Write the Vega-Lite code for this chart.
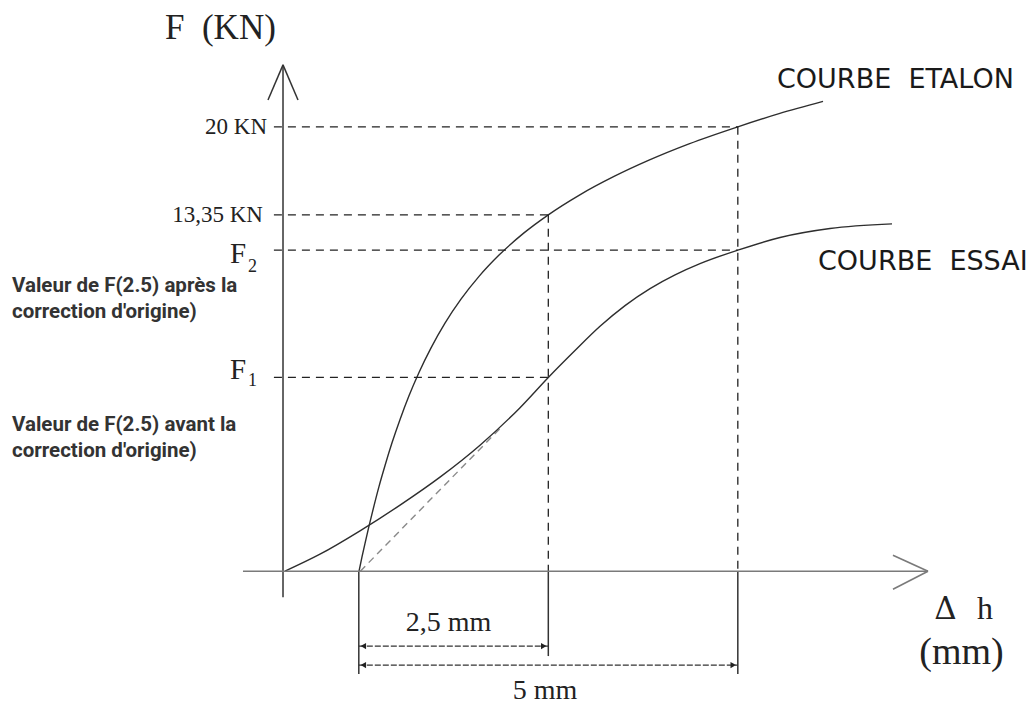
{
  "$schema": "https://vega.github.io/schema/vega-lite/v6.json",
  "width": 1032,
  "height": 706,
  "autosize": {"type": "fit", "contains": "padding"},
  "padding": 0,
  "background": "white",
  "config": {"view": {"stroke": null}},
  "encoding": {
    "x": {"field": "dh", "type": "quantitative", "scale": {"domain": [-3.7335, 9.881], "nice": false, "zero": false}, "axis": null},
    "y": {"field": "F", "type": "quantitative", "scale": {"domain": [-6.0225, 25.708], "nice": false, "zero": false}, "axis": null}
  },
  "layer": [
    {
      "data": {"values": [{"dh": 1.02, "F": 0}, {"dh": 2.863, "F": 6.42}]},
      "mark": {"type": "line", "color": "#8a8a8a", "strokeWidth": 1.4, "strokeDash": [7, 5]}
    },
    {
      "data": {"values": [
        {"curve": "COURBE ETALON", "dh": 1.003, "F": 0},
        {"curve": "COURBE ETALON", "dh": 1.042, "F": 0.641},
        {"curve": "COURBE ETALON", "dh": 1.082, "F": 1.256},
        {"curve": "COURBE ETALON", "dh": 1.135, "F": 2.036},
        {"curve": "COURBE ETALON", "dh": 1.201, "F": 2.952},
        {"curve": "COURBE ETALON", "dh": 1.266, "F": 3.807},
        {"curve": "COURBE ETALON", "dh": 1.346, "F": 4.758},
        {"curve": "COURBE ETALON", "dh": 1.438, "F": 5.777},
        {"curve": "COURBE ETALON", "dh": 1.544, "F": 6.832},
        {"curve": "COURBE ETALON", "dh": 1.662, "F": 7.896},
        {"curve": "COURBE ETALON", "dh": 1.794, "F": 8.946},
        {"curve": "COURBE ETALON", "dh": 1.953, "F": 10.052},
        {"curve": "COURBE ETALON", "dh": 2.137, "F": 11.163},
        {"curve": "COURBE ETALON", "dh": 2.348, "F": 12.243},
        {"curve": "COURBE ETALON", "dh": 2.586, "F": 13.268},
        {"curve": "COURBE ETALON", "dh": 2.85, "F": 14.226},
        {"curve": "COURBE ETALON", "dh": 3.179, "F": 15.226},
        {"curve": "COURBE ETALON", "dh": 3.5, "F": 16.04},
        {"curve": "COURBE ETALON", "dh": 3.905, "F": 16.918},
        {"curve": "COURBE ETALON", "dh": 4.367, "F": 17.766},
        {"curve": "COURBE ETALON", "dh": 4.828, "F": 18.499},
        {"curve": "COURBE ETALON", "dh": 5.356, "F": 19.232},
        {"curve": "COURBE ETALON", "dh": 6.0, "F": 20.0},
        {"curve": "COURBE ETALON", "dh": 6.544, "F": 20.591},
        {"curve": "COURBE ETALON", "dh": 7.124, "F": 21.143},
        {"curve": "COURBE ESSAI", "dh": 0.026, "F": 0},
        {"curve": "COURBE ESSAI", "dh": 0.488, "F": 0.763},
        {"curve": "COURBE ESSAI", "dh": 1.016, "F": 1.815},
        {"curve": "COURBE ESSAI", "dh": 1.544, "F": 2.974},
        {"curve": "COURBE ESSAI", "dh": 2.071, "F": 4.233},
        {"curve": "COURBE ESSAI", "dh": 2.599, "F": 5.671},
        {"curve": "COURBE ESSAI", "dh": 3.127, "F": 7.361},
        {"curve": "COURBE ESSAI", "dh": 3.5, "F": 8.72},
        {"curve": "COURBE ESSAI", "dh": 3.852, "F": 9.932},
        {"curve": "COURBE ESSAI", "dh": 4.182, "F": 11.022},
        {"curve": "COURBE ESSAI", "dh": 4.512, "F": 11.954},
        {"curve": "COURBE ESSAI", "dh": 4.842, "F": 12.718},
        {"curve": "COURBE ESSAI", "dh": 5.172, "F": 13.336},
        {"curve": "COURBE ESSAI", "dh": 5.501, "F": 13.842},
        {"curve": "COURBE ESSAI", "dh": 6.0, "F": 14.45},
        {"curve": "COURBE ESSAI", "dh": 6.557, "F": 15.018},
        {"curve": "COURBE ESSAI", "dh": 7.216, "F": 15.422},
        {"curve": "COURBE ESSAI", "dh": 8.034, "F": 15.631}
      ]},
      "mark": {"type": "line", "color": "#2e2e2e", "strokeWidth": 1.4, "interpolate": "monotone"},
      "encoding": {"detail": {"field": "curve"}}
    },
    {
      "data": {"values": [
        {"dh": -0.12, "F": 20.0, "dh2": 6.0, "F2": 20.0},
        {"dh": -0.12, "F": 16.04, "dh2": 3.5, "F2": 16.04},
        {"dh": -0.12, "F": 14.45, "dh2": 6.0, "F2": 14.45},
        {"dh": -0.12, "F": 8.72, "dh2": 3.5, "F2": 8.72},
        {"dh": 3.5, "F": 16.04, "dh2": 3.5, "F2": 0},
        {"dh": 6.0, "F": 20.0, "dh2": 6.0, "F2": 0}
      ]},
      "mark": {"type": "rule", "color": "#222222", "strokeWidth": 1.3, "strokeDash": [8, 6]},
      "encoding": {"x2": {"field": "dh2"}, "y2": {"field": "F2"}}
    },
    {
      "data": {"values": [
        {"dh": 0, "F": -1.17, "dh2": 0, "F2": 22.79},
        {"dh": -0.198, "F": 21.21, "dh2": 0, "F2": 22.79},
        {"dh": 0.198, "F": 21.21, "dh2": 0, "F2": 22.79},
        {"dh": 1.0, "F": 0, "dh2": 1.0, "F2": -4.63},
        {"dh": 3.5, "F": 0, "dh2": 3.5, "F2": -3.82},
        {"dh": 6.0, "F": 0, "dh2": 6.0, "F2": -4.63}
      ]},
      "mark": {"type": "rule", "color": "#333333", "strokeWidth": 1.5},
      "encoding": {"x2": {"field": "dh2"}, "y2": {"field": "F2"}}
    },
    {
      "data": {"values": [
        {"dh": -0.528, "F": 0, "dh2": 8.509, "F2": 0},
        {"dh": 8.047, "F": 0.719, "dh2": 8.509, "F2": 0},
        {"dh": 8.047, "F": -0.809, "dh2": 8.509, "F2": 0}
      ]},
      "mark": {"type": "rule", "color": "#7a7a7a", "strokeWidth": 1.6},
      "encoding": {"x2": {"field": "dh2"}, "y2": {"field": "F2"}}
    },
    {
      "data": {"values": [
        {"dh": 1.0, "F": -3.371, "dh2": 3.5, "F2": -3.371},
        {"dh": 1.0, "F": -4.225, "dh2": 6.0, "F2": -4.225}
      ]},
      "mark": {"type": "rule", "color": "#333333", "strokeWidth": 1.3, "strokeDash": [6, 2]},
      "encoding": {"x2": {"field": "dh2"}, "y2": {"field": "F2"}}
    },
    {
      "data": {"values": [
        {"dh": 1.06, "F": -3.371},
        {"dh": 1.06, "F": -4.225}
      ]},
      "mark": {"type": "point", "shape": "triangle-left", "filled": true, "color": "#222222", "size": 40, "opacity": 1}
    },
    {
      "data": {"values": [
        {"dh": 3.44, "F": -3.371},
        {"dh": 5.94, "F": -4.225}
      ]},
      "mark": {"type": "point", "shape": "triangle-right", "filled": true, "color": "#222222", "size": 40, "opacity": 1}
    },
    {
      "data": {"values": [
        {"label": "20 KN", "dh": -0.211, "F": 20.0},
        {"label": "13,35 KN", "dh": -0.264, "F": 16.04}
      ]},
      "mark": {"type": "text", "font": "Liberation Serif", "fontSize": 23, "align": "right", "baseline": "middle", "color": "#222222"},
      "encoding": {"text": {"field": "label"}}
    },
    {
      "data": {"values": [
        {"label": "F", "dh": -0.699, "F": 13.888},
        {"label": "F", "dh": -0.699, "F": 8.629}
      ]},
      "mark": {"type": "text", "font": "Liberation Serif", "fontSize": 29, "align": "left", "baseline": "alphabetic", "color": "#222222"},
      "encoding": {"text": {"field": "label"}}
    },
    {
      "data": {"values": [
        {"label": "2", "dh": -0.462, "F": 13.483},
        {"label": "1", "dh": -0.462, "F": 8.315}
      ]},
      "mark": {"type": "text", "font": "Liberation Serif", "fontSize": 18, "align": "left", "baseline": "alphabetic", "color": "#222222"},
      "encoding": {"text": {"field": "label"}}
    },
    {
      "data": {"values": [
        {"label": "F\u00a0 (KN)", "dh": -1.557, "F": 23.955}
      ]},
      "mark": {"type": "text", "font": "Liberation Serif", "fontSize": 35, "align": "left", "baseline": "alphabetic", "color": "#222222"},
      "encoding": {"text": {"field": "label"}}
    },
    {
      "data": {"values": [
        {"label": "2,5 mm", "dh": 2.184, "F": -2.697},
        {"label": "5 mm", "dh": 3.456, "F": -5.753}
      ]},
      "mark": {"type": "text", "font": "Liberation Serif", "fontSize": 28, "align": "center", "baseline": "alphabetic", "color": "#222222"},
      "encoding": {"text": {"field": "label"}}
    },
    {
      "data": {"values": [
        {"label": "Δ", "dh": 8.59, "F": -2.157}
      ]},
      "mark": {"type": "text", "font": "DejaVu Serif", "fontSize": 31, "align": "left", "baseline": "alphabetic", "color": "#222222"},
      "encoding": {"text": {"field": "label"}}
    },
    {
      "data": {"values": [
        {"label": "h", "dh": 9.156, "F": -2.157}
      ]},
      "mark": {"type": "text", "font": "Liberation Serif", "fontSize": 32, "align": "left", "baseline": "alphabetic", "color": "#222222"},
      "encoding": {"text": {"field": "label"}}
    },
    {
      "data": {"values": [
        {"label": "(mm)", "dh": 8.951, "F": -4.18}
      ]},
      "mark": {"type": "text", "font": "Liberation Serif", "fontSize": 38, "align": "center", "baseline": "alphabetic", "color": "#222222"},
      "encoding": {"text": {"field": "label"}}
    },
    {
      "data": {"values": [
        {"label": "COURBE\u00a0 ETALON", "dh": 6.517, "F": 22.11},
        {"label": "COURBE\u00a0 ESSAI", "dh": 7.058, "F": 13.93}
      ]},
      "mark": {"type": "text", "font": "DejaVu Sans", "fontSize": 27, "align": "left", "baseline": "middle", "color": "#1a1a1a"},
      "encoding": {"text": {"field": "label"}}
    },
    {
      "data": {"values": [
        {"label": "Valeur de F(2.5) après la", "dh": -3.575, "F": 12.584},
        {"label": "correction d'origine)", "dh": -3.575, "F": 11.416},
        {"label": "Valeur de F(2.5) avant la", "dh": -3.575, "F": 6.292},
        {"label": "correction d'origine)", "dh": -3.575, "F": 5.124}
      ]},
      "mark": {"type": "text", "font": "Roboto", "fontWeight": "bold", "fontSize": 20.5, "align": "left", "baseline": "alphabetic", "color": "#333333"},
      "encoding": {"text": {"field": "label"}}
    }
  ]
}
